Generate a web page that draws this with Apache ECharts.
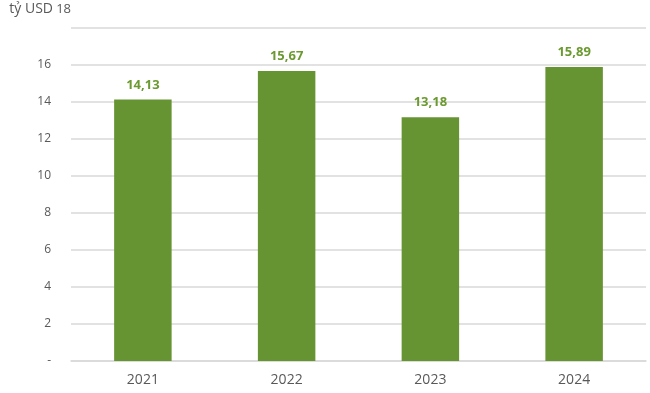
<!DOCTYPE html>
<html>
<head>
<meta charset="utf-8">
<script src="https://cdn.jsdelivr.net/npm/echarts@6/dist/echarts.min.js"></script>
<style>html,body{margin:0;padding:0;background:#fff}#c{width:650px;height:393px}</style>
</head>
<body>
<div id="c"></div>
<script>
const categories = ['2021', '2022', '2023', '2024'];
const values = [14.13, 15.67, 13.18, 15.89];
const yTicks = [0, 2, 4, 6, 8, 10, 12, 14, 16, 18];
const unitLabel = 'tỷ USD';

const yMax = yTicks[yTicks.length - 1];
const chart = echarts.init(document.getElementById('c'));
chart.setOption({
  animation: false,
  grid: { left: 71, right: 4, top: 28, bottom: 32 },
  xAxis: {
    type: 'category',
    data: categories,
    axisLine: { show: true, lineStyle: { color: '#d9d9d9', width: 1.5 } },
    axisTick: { show: false },
    axisLabel: { color: '#595959', fontSize: 14, fontFamily: 'Open Sans', margin: 12 }
  },
  yAxis: {
    type: 'value',
    min: 0, max: yMax, interval: 2,
    name: '{u|' + unitLabel + '} {n|' + yMax + '}',
    nameLocation: 'end',
    nameGap: 12,
    nameTextStyle: {
      color: '#595959', fontFamily: 'Open Sans', align: 'right',
      rich: {
        u: { fontSize: 14, color: '#595959', fontFamily: 'Open Sans', verticalAlign: 'bottom' },
        n: { fontSize: 13, color: '#595959', fontFamily: 'Open Sans', verticalAlign: 'bottom', padding: [3, 0, 0, 0] }
      }
    },
    axisLine: { show: false },
    axisTick: { show: false },
    splitLine: { lineStyle: { color: '#d9d9d9', width: 1.5 } },
    axisLabel: {
      color: '#595959', fontSize: 12, fontFamily: 'Open Sans', margin: 20,
      formatter: v => v === 0 ? '-' : (v === yMax ? '' : String(v))
    }
  },
  series: [{
    type: 'bar',
    data: values,
    barWidth: '40%',
    itemStyle: { color: '#679432' },
    label: {
      show: true, position: 'top', distance: 8,
      color: '#6b9a30', fontWeight: 'bold', fontSize: 13, fontFamily: 'Open Sans',
      formatter: p => p.value.toFixed(2).replace('.', ',')
    }
  }]
});
</script>
</body>
</html>
